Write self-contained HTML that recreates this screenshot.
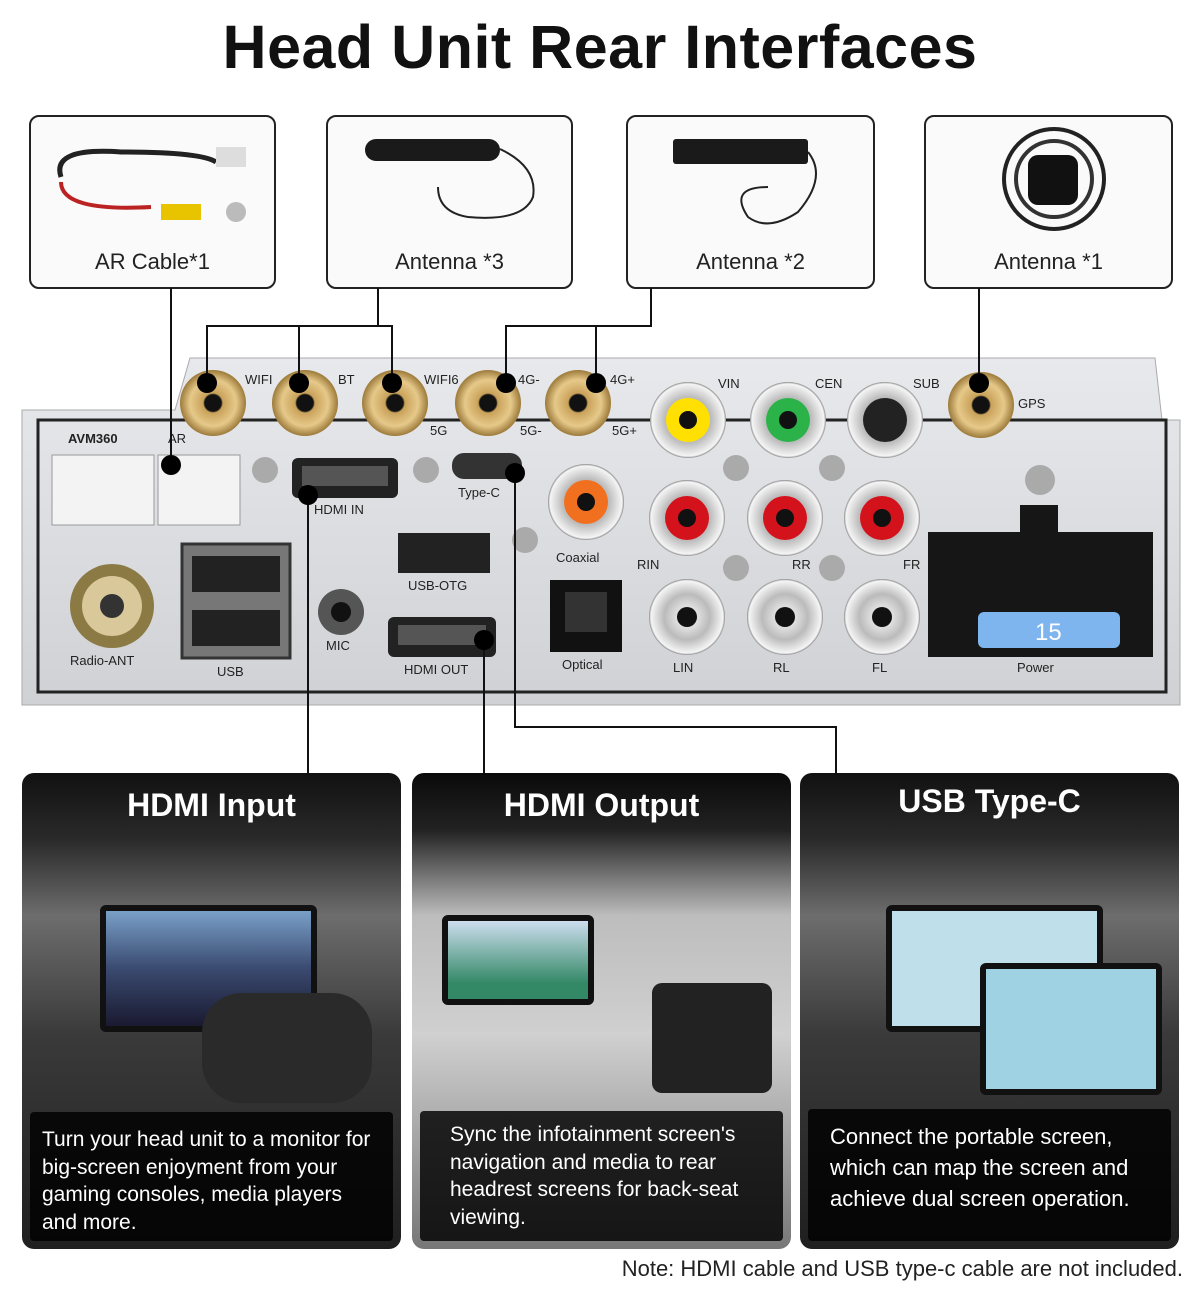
<!DOCTYPE html>
<html><head><meta charset="utf-8">
<style>
body{margin:0;width:1200px;height:1303px;background:#fff;position:relative;overflow:hidden;font-family:"Liberation Sans",sans-serif}
.t{position:absolute;left:0;width:1200px;top:12px;text-align:center;font-size:61px;font-weight:bold;color:#111;letter-spacing:0.5px}
.box{position:absolute;top:115px;height:170px;border:2px solid #222;border-radius:10px;background:#fafafa}
.box span{position:absolute;bottom:12px;left:0;right:0;text-align:center;font-size:22px;color:#222}
.card{position:absolute;top:773px;height:476px;border-radius:12px;overflow:hidden;background:linear-gradient(#111 0,#2a2a2a 14%,#6d6d6d 30%,#3a3a3a 55%,#1f1f1f 100%)}
.card h2{position:absolute;top:14px;left:0;right:0;margin:0;text-align:center;color:#fff;font-size:32px;font-weight:bold}
.card .tx{position:absolute;left:8px;right:8px;bottom:8px;background:rgba(0,0,0,.82);color:#fff;font-size:21px;line-height:27.5px;padding:10px 12px;border-radius:4px}
.scr{position:absolute;border-radius:6px;border:6px solid #111}
</style></head><body>
<div class="t">Head Unit Rear Interfaces</div>

<div class="box" style="left:29px;width:243px"><span>AR Cable*1</span>
<svg width="243" height="110" style="position:absolute;top:10px;left:0"><path d="M30 50 Q20 20 90 25 Q170 25 185 35" stroke="#222" stroke-width="5" fill="none"/><path d="M30 55 Q30 85 120 80" stroke="#b22" stroke-width="4" fill="none"/><rect x="130" y="77" width="40" height="16" fill="#e8c400"/><circle cx="205" cy="85" r="10" fill="#bbb"/><rect x="185" y="20" width="30" height="20" fill="#ddd"/></svg></div>
<div class="box" style="left:326px;width:243px"><span>Antenna *3</span>
<svg width="243" height="110" style="position:absolute;top:10px;left:0"><rect x="37" y="12" width="135" height="22" rx="11" fill="#1a1a1a"/><path d="M172 22 Q210 40 205 70 Q195 95 140 90 Q110 85 110 60" stroke="#222" stroke-width="2" fill="none"/></svg></div>
<div class="box" style="left:626px;width:245px"><span>Antenna *2</span>
<svg width="245" height="110" style="position:absolute;top:10px;left:0"><rect x="45" y="12" width="135" height="25" rx="3" fill="#1a1a1a"/><path d="M180 25 Q200 50 170 85 Q140 105 120 90 Q100 60 140 60" stroke="#222" stroke-width="2" fill="none"/></svg></div>
<div class="box" style="left:924px;width:245px"><span>Antenna *1</span>
<svg width="245" height="110" style="position:absolute;top:10px;left:0"><circle cx="128" cy="52" r="50" fill="none" stroke="#222" stroke-width="4"/><circle cx="128" cy="52" r="38" fill="none" stroke="#333" stroke-width="4"/><rect x="102" y="28" width="50" height="50" rx="10" fill="#111"/></svg></div>

<svg width="1200" height="780" style="position:absolute;left:0;top:0">
<defs><linearGradient id="pg" x1="0" y1="0" x2="0" y2="1"><stop offset="0" stop-color="#e8e9ec"/><stop offset="1" stop-color="#cfd1d5"/></linearGradient>
<radialGradient id="gold"><stop offset="0.25" stop-color="#111"/><stop offset="0.3" stop-color="#c9a25a"/><stop offset="0.7" stop-color="#e6c98a"/><stop offset="1" stop-color="#9c7a3a"/></radialGradient>
<radialGradient id="rca"><stop offset="0.3" stop-color="#ddd"/><stop offset="0.6" stop-color="#bbb"/><stop offset="0.95" stop-color="#f5f5f5"/><stop offset="1" stop-color="#888"/></radialGradient></defs>
<path d="M22 410 L175 410 L190 358 L1155 358 L1162 420 L1180 420 L1180 705 L22 705 Z" fill="url(#pg)" stroke="#aaa"/>
<rect x="38" y="420" width="1128" height="272" fill="none" stroke="#222" stroke-width="3"/>
<g fill="url(#gold)"><circle cx="213" cy="403" r="33"/><circle cx="305" cy="403" r="33"/><circle cx="395" cy="403" r="33"/><circle cx="488" cy="403" r="33"/><circle cx="578" cy="403" r="33"/><circle cx="981" cy="405" r="33"/></g>
<g fill="url(#rca)"><circle cx="688" cy="420" r="38"/><circle cx="788" cy="420" r="38"/><circle cx="885" cy="420" r="38"/><circle cx="687" cy="518" r="38"/><circle cx="785" cy="518" r="38"/><circle cx="882" cy="518" r="38"/><circle cx="687" cy="617" r="38"/><circle cx="785" cy="617" r="38"/><circle cx="882" cy="617" r="38"/><circle cx="586" cy="502" r="38"/></g>
<circle cx="688" cy="420" r="22" fill="#ffe000"/><circle cx="788" cy="420" r="22" fill="#2bb34a"/><circle cx="885" cy="420" r="22" fill="#222"/>
<circle cx="687" cy="518" r="22" fill="#d4121c"/><circle cx="785" cy="518" r="22" fill="#d4121c"/><circle cx="882" cy="518" r="22" fill="#d4121c"/><circle cx="586" cy="502" r="22" fill="#f07020"/>
<g fill="#111"><circle cx="688" cy="420" r="9"/><circle cx="788" cy="420" r="9"/><circle cx="687" cy="518" r="9"/><circle cx="785" cy="518" r="9"/><circle cx="882" cy="518" r="9"/><circle cx="586" cy="502" r="9"/><circle cx="687" cy="617" r="10"/><circle cx="785" cy="617" r="10"/><circle cx="882" cy="617" r="10"/></g>
<rect x="52" y="455" width="102" height="70" fill="#f3f3f3" stroke="#999"/><rect x="158" y="455" width="82" height="70" fill="#f3f3f3" stroke="#999"/>
<circle cx="112" cy="606" r="42" fill="#8c7a45"/><circle cx="112" cy="606" r="30" fill="#d9c89a"/><circle cx="112" cy="606" r="12" fill="#333"/>
<rect x="182" y="544" width="108" height="114" fill="#777" stroke="#333" stroke-width="3"/><rect x="192" y="556" width="88" height="36" fill="#222"/><rect x="192" y="610" width="88" height="36" fill="#222"/>
<rect x="292" y="458" width="106" height="40" rx="6" fill="#222"/><rect x="302" y="466" width="86" height="20" fill="#555"/>
<rect x="452" y="453" width="70" height="26" rx="12" fill="#333"/>
<rect x="398" y="533" width="92" height="40" fill="#222"/>
<circle cx="341" cy="612" r="23" fill="#555"/><circle cx="341" cy="612" r="10" fill="#111"/>
<rect x="388" y="617" width="108" height="40" rx="6" fill="#222"/><rect x="398" y="625" width="88" height="20" fill="#555"/>
<rect x="550" y="580" width="72" height="72" fill="#111"/><rect x="565" y="592" width="42" height="40" fill="#333"/>
<rect x="928" y="532" width="225" height="125" fill="#161616"/><rect x="1020" y="505" width="38" height="30" fill="#161616"/>
<rect x="978" y="612" width="142" height="36" rx="6" fill="#7fb5ef"/><text x="1035" y="640" font-size="24" fill="#fff" font-family="Liberation Sans">15</text>
<g fill="#aaa"><circle cx="265" cy="470" r="13"/><circle cx="426" cy="470" r="13"/><circle cx="525" cy="540" r="13"/><circle cx="736" cy="468" r="13"/><circle cx="832" cy="468" r="13"/><circle cx="736" cy="568" r="13"/><circle cx="832" cy="568" r="13"/><circle cx="1040" cy="480" r="15"/></g>
<g font-family="Liberation Sans" font-size="13" fill="#222">
<text x="68" y="443" font-weight="bold">AVM360</text><text x="168" y="443">AR</text><text x="245" y="384">WIFI</text><text x="338" y="384">BT</text><text x="424" y="384">WIFI6</text><text x="518" y="384">4G-</text><text x="610" y="384">4G+</text><text x="430" y="435">5G</text><text x="520" y="435">5G-</text><text x="612" y="435">5G+</text>
<text x="718" y="388">VIN</text><text x="815" y="388">CEN</text><text x="913" y="388">SUB</text><text x="1018" y="408">GPS</text>
<text x="314" y="514">HDMI IN</text><text x="458" y="497">Type-C</text><text x="408" y="590">USB-OTG</text><text x="556" y="562">Coaxial</text><text x="637" y="569">RIN</text><text x="792" y="569">RR</text><text x="903" y="569">FR</text>
<text x="70" y="665">Radio-ANT</text><text x="217" y="676">USB</text><text x="326" y="650">MIC</text><text x="404" y="674">HDMI OUT</text><text x="562" y="669">Optical</text><text x="673" y="672">LIN</text><text x="773" y="672">RL</text><text x="872" y="672">FL</text><text x="1017" y="672">Power</text></g>
<g stroke="#111" stroke-width="2" fill="none">
<path d="M171 288 V465"/><path d="M378 288 V326 M207 383 V326 H392 V383 M299 326 V383"/>
<path d="M651 288 V326 H506 V383 M596 326 V383"/><path d="M979 288 V383"/>
<path d="M308 495 V775"/><path d="M484 640 V775"/><path d="M515 473 V727 H836 V775"/></g>
<g fill="#000"><circle cx="171" cy="465" r="10"/><circle cx="207" cy="383" r="10"/><circle cx="299" cy="383" r="10"/><circle cx="392" cy="383" r="10"/><circle cx="506" cy="383" r="10"/><circle cx="596" cy="383" r="10"/><circle cx="979" cy="383" r="10"/><circle cx="308" cy="495" r="10"/><circle cx="484" cy="640" r="10"/><circle cx="515" cy="473" r="10"/></g>
</svg>

<div class="card" style="left:22px;width:379px"><h2>HDMI Input</h2>
<div class="scr" style="left:78px;top:132px;width:205px;height:115px;background:linear-gradient(#7aa0c8,#3a4a70 50%,#1a1a30)"></div>
<div style="position:absolute;left:180px;top:220px;width:170px;height:110px;background:#2a2a2a;border-radius:40px"></div>
<div class="tx" style="height:105px;padding-top:14px">Turn your head unit to a monitor for big-screen enjoyment from your gaming consoles, media players and more.</div></div>
<div class="card" style="left:412px;width:379px;background:linear-gradient(#0a0a0a 0,#222 12%,#bdbdbd 30%,#d0d0d0 55%,#777 100%)"><h2>HDMI Output</h2>
<div class="scr" style="left:30px;top:142px;width:140px;height:78px;background:linear-gradient(#cde,#386 80%)"></div>
<div style="position:absolute;left:240px;top:210px;width:120px;height:110px;background:#222;border-radius:10px"></div>
<div class="tx" style="height:110px;padding-left:30px">Sync the infotainment screen's navigation and media to rear headrest screens for back-seat viewing.</div></div>
<div class="card" style="left:800px;width:379px"><h2 style="top:10px">USB Type-C</h2>
<div class="scr" style="left:86px;top:132px;width:205px;height:115px;background:#bfe0ea"></div>
<div class="scr" style="left:180px;top:190px;width:170px;height:120px;background:#9fd3e4"></div>
<div class="tx" style="height:110px;padding-top:12px;padding-left:22px;font-size:22px;line-height:31px">Connect the portable screen, which can map the screen and achieve dual screen operation.</div></div>

<div style="position:absolute;right:17px;top:1256px;font-size:22px;color:#222">Note: HDMI cable and USB type-c cable are not included.</div>
</body></html>
